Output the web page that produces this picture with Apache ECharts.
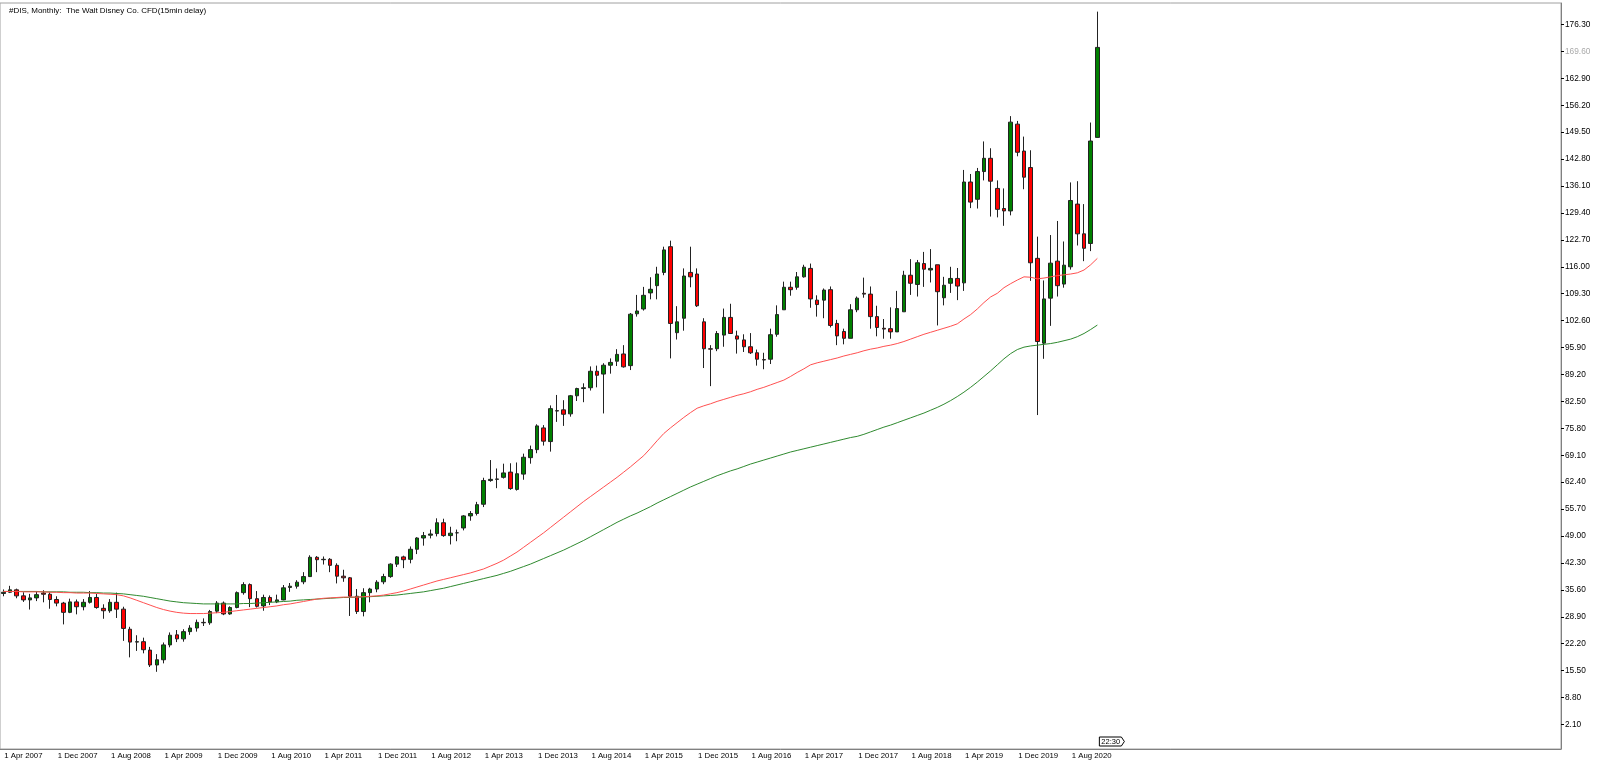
<!DOCTYPE html>
<html>
<head>
<meta charset="utf-8">
<script src="https://cdn.jsdelivr.net/npm/echarts@6/dist/echarts.min.js"></script>
<style>
html,body{margin:0;padding:0;background:#fff;}
#chart{width:1600px;height:767px;}
</style>
</head>
<body>
<div id="chart"></div>
<script>
const chartTitle = '#DIS, Monthly:  The Walt Disney Co. CFD(15min delay)';
const firstYear = 2007;
const firstMonth = 3; // April (0-based)
const timeTag = '22:30';

// Monthly OHLC, Apr 2007 .. Dec 2020
const opens = [
 34.7, 35.0, 35.6, 34.1, 33.1, 33.6, 34.8, 34.5, 33.2,
 32.3, 30.0, 32.6, 31.4, 32.5, 33.7, 31.0, 30.4, 32.5, 30.8, 25.8, 22.6,
 22.7, 20.6, 16.9, 18.2, 21.9, 24.4, 23.4, 25.2, 26.1, 27.5, 27.4, 30.3,
 32.3, 29.6, 31.2, 34.9, 36.9, 33.4, 31.6, 33.7, 32.6, 33.1, 36.2, 36.5,
 37.6, 38.9, 43.7, 43.1, 43.2, 41.7, 39.0, 38.6, 34.0, 30.2, 34.9, 35.8,
 37.6, 38.9, 42.0, 43.8, 43.2, 45.7, 48.5, 49.2, 49.6, 52.3, 49.1, 49.8,
 51.0, 54.0, 54.6, 56.9, 62.8, 63.1, 63.6, 64.9, 60.6, 64.4, 68.5, 70.5,
 75.9, 72.5, 80.2, 80.4, 79.4, 83.9, 85.7, 85.9, 90.0, 89.3, 91.5, 92.5,
 94.3, 91.4, 104.3, 105.5, 109.5, 111.3, 114.6, 121.0, 99.6, 103.2, 114.6, 114.2,
 102.3, 95.6, 95.6, 99.0, 103.4, 98.8, 97.8, 96.1, 94.6, 92.9, 93.0, 99.2,
 105.3, 110.9, 110.9, 113.5, 115.6, 107.7, 107.7, 110.3, 101.9, 99.9, 98.2, 105.3,
 109.4, 109.2, 103.6, 100.7, 100.6, 99.8, 104.8, 113.9, 111.6, 116.8, 115.2, 116.5,
 108.3, 111.9, 113.1, 112.0, 137.1, 132.8, 139.7, 143.0, 135.5, 130.5, 129.9, 151.5,
 144.8, 140.7, 118.1, 97.0, 108.2, 117.4, 111.7, 116.0, 131.6, 124.2, 121.8, 148.2
];
const highs = [
 35.7, 36.6, 35.9, 35.0, 34.6, 35.2, 35.5, 35.0, 34.0,
 32.6, 33.4, 33.2, 33.3, 35.3, 34.6, 32.0, 33.3, 34.9, 31.4, 26.4, 24.3,
 23.7, 21.4, 19.6, 22.5, 25.0, 25.6, 25.8, 26.8, 28.2, 28.5, 30.6, 32.8,
 32.7, 31.5, 35.2, 37.5, 37.2, 35.3, 34.4, 34.2, 34.4, 36.8, 37.3, 38.0,
 40.0, 44.2, 44.0, 43.9, 43.5, 42.2, 40.6, 38.8, 35.8, 36.0, 36.1, 38.0,
 39.6, 42.2, 44.0, 44.1, 46.4, 48.7, 50.0, 50.6, 53.4, 53.3, 51.3, 50.6,
 54.2, 55.2, 57.5, 63.5, 67.9, 65.8, 67.0, 67.1, 67.3, 69.5, 71.5, 76.8,
 76.6, 81.5, 84.1, 82.8, 84.1, 85.9, 87.0, 91.2, 91.4, 92.0, 93.2, 95.5,
 96.5, 104.5, 109.0, 111.0, 113.4, 116.0, 121.0, 122.5, 106.2, 115.6, 121.0, 115.6,
 103.2, 96.5, 100.0, 105.6, 106.8, 100.1, 99.2, 99.5, 95.4, 94.6, 100.6, 106.4,
 112.3, 112.3, 114.7, 116.5, 116.8, 108.9, 110.6, 111.1, 102.8, 100.6, 106.7, 108.6,
 113.3, 111.1, 106.3, 103.0, 105.9, 110.0, 115.0, 117.9, 117.7, 119.7, 120.4, 116.5,
 113.5, 116.0, 115.7, 140.1, 139.1, 140.6, 147.2, 145.5, 137.5, 135.5, 153.5, 152.3,
 148.4, 145.0, 123.5, 112.6, 123.9, 127.4, 122.3, 137.0, 137.3, 131.6, 151.9, 179.5
];
const lows = [
 34.0, 34.8, 33.5, 32.6, 30.7, 32.8, 32.5, 30.9, 31.5,
 27.0, 29.8, 29.5, 30.5, 32.2, 30.9, 28.4, 29.9, 28.6, 22.9, 18.8, 20.4,
 19.8, 16.4, 15.2, 17.3, 21.3, 22.6, 22.7, 24.4, 25.2, 26.6, 26.9, 29.8,
 29.3, 29.4, 31.0, 34.4, 31.3, 31.2, 30.4, 31.8, 32.3, 33.0, 35.1, 35.9,
 37.0, 38.8, 40.0, 41.9, 40.0, 37.2, 37.6, 29.1, 29.6, 29.0, 32.5, 35.0,
 37.0, 38.6, 41.3, 41.0, 42.2, 44.5, 46.6, 48.4, 48.9, 48.8, 46.9, 47.7,
 50.4, 52.8, 54.1, 56.2, 62.5, 60.9, 63.3, 60.5, 60.3, 63.0, 67.0, 69.6,
 71.5, 70.0, 77.4, 76.4, 78.7, 82.6, 82.3, 85.2, 86.0, 79.5, 89.4, 91.3,
 90.9, 90.3, 103.6, 105.1, 107.9, 107.9, 113.9, 93.2, 97.9, 100.1, 110.9, 106.0,
 90.8, 86.3, 95.0, 96.1, 99.3, 94.4, 94.8, 94.3, 91.4, 90.5, 91.8, 98.6,
 105.3, 108.8, 110.3, 113.3, 105.8, 103.6, 103.2, 100.9, 96.5, 96.7, 98.2, 104.7,
 108.3, 100.6, 98.7, 98.1, 98.1, 99.8, 104.8, 109.0, 108.6, 111.0, 112.1, 101.4,
 106.4, 109.5, 107.7, 110.0, 130.6, 130.5, 137.5, 128.5, 128.3, 126.2, 128.8, 143.5,
 135.3, 112.5, 79.1, 93.1, 101.3, 108.6, 110.8, 115.3, 121.3, 117.4, 119.9, 148.2
];
const closes = [
 35.0, 35.6, 34.1, 33.1, 33.6, 34.4, 34.5, 33.2, 32.3,
 30.0, 32.6, 31.4, 32.5, 33.7, 31.2, 30.4, 32.5, 30.8, 26.0, 22.6, 22.7,
 20.7, 16.9, 18.2, 21.9, 24.3, 23.4, 25.2, 26.1, 27.5, 27.4, 30.2, 32.3,
 29.6, 31.2, 34.9, 36.9, 33.4, 31.5, 33.7, 32.6, 33.1, 36.1, 36.5, 37.5,
 38.9, 43.7, 43.1, 43.2, 41.7, 39.0, 38.6, 34.0, 30.2, 34.9, 35.8, 37.5,
 38.9, 42.0, 43.8, 43.1, 45.7, 48.5, 49.1, 49.5, 52.3, 49.1, 49.7, 49.8,
 54.0, 54.6, 56.8, 62.8, 63.1, 63.2, 64.7, 60.8, 64.5, 68.6, 70.5, 76.4,
 72.6, 80.7, 80.1, 79.3, 83.9, 85.7, 85.9, 90.0, 89.0, 91.5, 92.2, 94.2,
 91.1, 104.2, 105.0, 108.9, 110.4, 114.2, 120.2, 101.9, 102.3, 113.7, 113.5, 106.3,
 95.6, 95.5, 99.4, 103.4, 99.4, 98.0, 96.1, 94.6, 93.0, 92.8, 99.1, 104.1,
 110.9, 110.3, 113.5, 115.9, 108.0, 106.6, 110.2, 101.4, 98.8, 98.2, 105.3, 108.2,
 109.2, 103.6, 100.9, 100.5, 99.8, 105.6, 113.9, 111.9, 117.0, 115.4, 115.6, 109.8,
 111.4, 113.1, 111.2, 137.1, 132.1, 139.7, 143.0, 137.3, 130.3, 129.9, 152.0, 144.5,
 138.3, 117.0, 97.4, 108.0, 116.9, 111.3, 116.4, 132.5, 124.2, 120.6, 147.3, 170.6
];
// Moving averages (red = fast, green = slow)
const maRed = [
 35.2, 35.2, 35.2, 35.1, 35.1, 35.1, 35.1, 35.0, 35.0,
 34.9, 34.9, 34.8, 34.8, 34.8, 34.7, 34.6, 34.5, 34.4, 34.1, 33.6, 33.0,
 32.4, 31.8, 31.2, 30.7, 30.3, 30.0, 29.8, 29.7, 29.7, 29.7, 29.8, 29.9,
 30.0, 30.2, 30.4, 30.6, 30.8, 31.0, 31.2, 31.4, 31.6, 31.9, 32.1, 32.4,
 32.7, 33.0, 33.3, 33.5, 33.6, 33.7, 33.8, 33.8, 33.8, 33.9, 34.0, 34.1,
 34.3, 34.6, 34.9, 35.3, 35.8, 36.3, 36.8, 37.3, 37.8, 38.2, 38.6, 39.0,
 39.4, 39.8, 40.3, 40.8, 41.5, 42.2, 43.0, 44.0, 45.0, 46.2, 47.4, 48.6,
 49.8, 51.1, 52.4, 53.7, 55.0, 56.3, 57.6, 58.8, 60.0, 61.2, 62.4, 63.6,
 64.9, 66.2, 67.6, 69.0, 70.8, 72.7, 74.5, 75.9, 77.2, 78.5, 79.7, 80.8,
 81.4, 81.9, 82.5, 83.0, 83.5, 84.0, 84.4, 84.9, 85.5, 86.0, 86.6, 87.2,
 87.8, 88.7, 89.7, 90.6, 91.6, 92.1, 92.5, 92.9, 93.3, 93.8, 94.2, 94.6,
 95.1, 95.5, 95.8, 96.2, 96.5, 96.9, 97.4, 98.0, 98.6, 99.2, 99.7, 100.2,
 100.7, 101.2, 101.8, 103.0, 104.1, 105.5, 107.1, 108.5, 109.4, 110.8, 111.8, 112.7,
 113.5, 113.4, 113.0, 113.2, 113.5, 113.8, 114.0, 114.2, 114.5, 115.2, 116.5, 118.1
];
const maGreen = [
 35.2, 35.2, 35.2, 35.2, 35.2, 35.2, 35.1, 35.1, 35.1,
 35.1, 35.0, 35.0, 35.0, 34.9, 34.9, 34.8, 34.8, 34.7, 34.6, 34.4, 34.2,
 34.0, 33.7, 33.4, 33.1, 32.8, 32.6, 32.4, 32.3, 32.2, 32.1, 32.1, 32.1,
 32.1, 32.1, 32.1, 32.2, 32.2, 32.3, 32.4, 32.5, 32.6, 32.7, 32.8, 33.0,
 33.1, 33.2, 33.3, 33.4, 33.5, 33.6, 33.7, 33.7, 33.8, 33.8, 33.9, 34.0,
 34.1, 34.2, 34.3, 34.5, 34.7, 34.9, 35.1, 35.4, 35.7, 36.0, 36.4, 36.8,
 37.2, 37.6, 38.0, 38.4, 38.8, 39.2, 39.7, 40.2, 40.8, 41.4, 42.0, 42.7,
 43.4, 44.1, 44.8, 45.5, 46.3, 47.1, 47.9, 48.8, 49.7, 50.6, 51.5, 52.4,
 53.2, 54.0, 54.7, 55.5, 56.3, 57.2, 58.0, 58.8, 59.6, 60.4, 61.2, 61.9,
 62.6, 63.3, 64.0, 64.6, 65.2, 65.7, 66.3, 66.9, 67.4, 67.9, 68.4, 68.9,
 69.4, 69.9, 70.3, 70.7, 71.1, 71.5, 71.9, 72.3, 72.7, 73.1, 73.5, 73.8,
 74.3, 74.9, 75.5, 76.1, 76.6, 77.2, 77.8, 78.4, 79.0, 79.6, 80.3, 81.0,
 81.8, 82.7, 83.7, 84.8, 86.0, 87.3, 88.7, 90.1, 91.6, 93.1, 94.4, 95.4,
 96.0, 96.3, 96.5, 96.7, 96.9, 97.2, 97.6, 98.0, 98.6, 99.4, 100.4, 101.5
];
// Price-axis tick labels
const yTicks = [2.1, 8.8, 15.5, 22.2, 28.9, 35.6, 42.3, 49.0, 55.7, 62.4, 69.1, 75.8, 82.5, 89.2,
 95.9, 102.6, 109.3, 116.0, 122.7, 129.4, 136.1, 142.8, 149.5, 156.2, 162.9, 169.6, 176.3];
const xLabelEvery = 8;

const MON = ['Jan','Feb','Mar','Apr','May','Jun','Jul','Aug','Sep','Oct','Nov','Dec'];
const categories = opens.map((_, i) => {
  const m = firstMonth + i;
  return '1 ' + MON[m % 12] + ' ' + (firstYear + Math.floor(m / 12));
});
const N = opens.length;
const SLOTS = 234; // visible bar slots incl. empty right-hand shift area
const ohlc = opens.map((o, i) => [o, closes[i], lows[i], highs[i]]);

const FONT = 'Liberation Sans';
const chart = echarts.init(document.getElementById('chart'), null, {renderer: 'canvas'});
const showIdx = (i) => i < N && i % xLabelEvery === 0;
const Y_MIN = -4.01, Y_MAX = 181.65;

chart.setOption({
  animation: false,
  backgroundColor: '#ffffff',
  title: {
    text: chartTitle, left: 4, top: 2,
    textStyle: {fontFamily: FONT, fontSize: 8, fontWeight: 'normal', color: '#000'}
  },
  grid: {left: -1.64, right: 39, top: 3, bottom: 18, show: true, borderColor: '#a0a0a0', borderWidth: 1, containLabel: false},
  xAxis: {
    type: 'category', data: categories, max: SLOTS - 1, boundaryGap: true,
    axisLine: {onZero: false, lineStyle: {color: '#808080', width: 1}},
    axisTick: {alignWithLabel: true, interval: (i) => showIdx(i), length: 3, lineStyle: {color: '#000'}},
    axisLabel: {interval: (i) => showIdx(i), align: 'left', margin: 3, padding: [0, 0, 0, 1],
      fontFamily: FONT, fontSize: 7.8, color: '#000'},
    splitLine: {show: false}
  },
  yAxis: {
    type: 'value', position: 'right', min: Y_MIN, max: Y_MAX,
    axisLine: {show: true, lineStyle: {color: '#808080', width: 1}},
    axisTick: {show: true, customValues: yTicks, length: 3, lineStyle: {color: '#000'}},
    axisLabel: {
      customValues: yTicks, margin: 4, fontFamily: FONT, fontSize: 8.3, color: '#000',
      formatter: (v) => Math.abs(v - 169.6) < 1e-6 ? '{dim|' + v.toFixed(2) + '}' : v.toFixed(2),
      rich: {dim: {color: '#aaaaaa', fontFamily: FONT, fontSize: 8.3}}
    },
    splitLine: {show: false}
  },
  series: [
    {
      type: 'candlestick', data: ohlc, barWidth: 4, z: 2,
      itemStyle: {color: '#008000', color0: '#ff0000', borderColor: '#222', borderColor0: '#222', borderWidth: 1}
    },
    {
      type: 'line', data: maGreen, symbol: 'none', z: 3, silent: true,
      lineStyle: {color: '#2f8a2f', width: 1}
    },
    {
      type: 'line', data: maRed, symbol: 'none', z: 3, silent: true,
      lineStyle: {color: '#ff5050', width: 1}
    }
  ]
});

// time tag next to the last bar, just above the time axis
const lastPx = chart.convertToPixel({xAxisIndex: 0, yAxisIndex: 0}, [N - 1, Y_MIN]);
const tx = lastPx[0] + 2, ty = lastPx[1] - 12;
chart.setOption({
  graphic: [
    {type: 'polygon', shape: {points: [[tx, ty], [tx + 22, ty], [tx + 25, ty + 4.5], [tx + 22, ty + 9], [tx, ty + 9]]},
      style: {fill: '#fff', stroke: '#000', lineWidth: 1}, z: 10},
    {type: 'text', x: tx + 2, y: ty + 1, style: {text: timeTag, font: '7.5px "Liberation Sans"', fill: '#000'}, z: 11}
  ]
});
</script>
</body>
</html>
